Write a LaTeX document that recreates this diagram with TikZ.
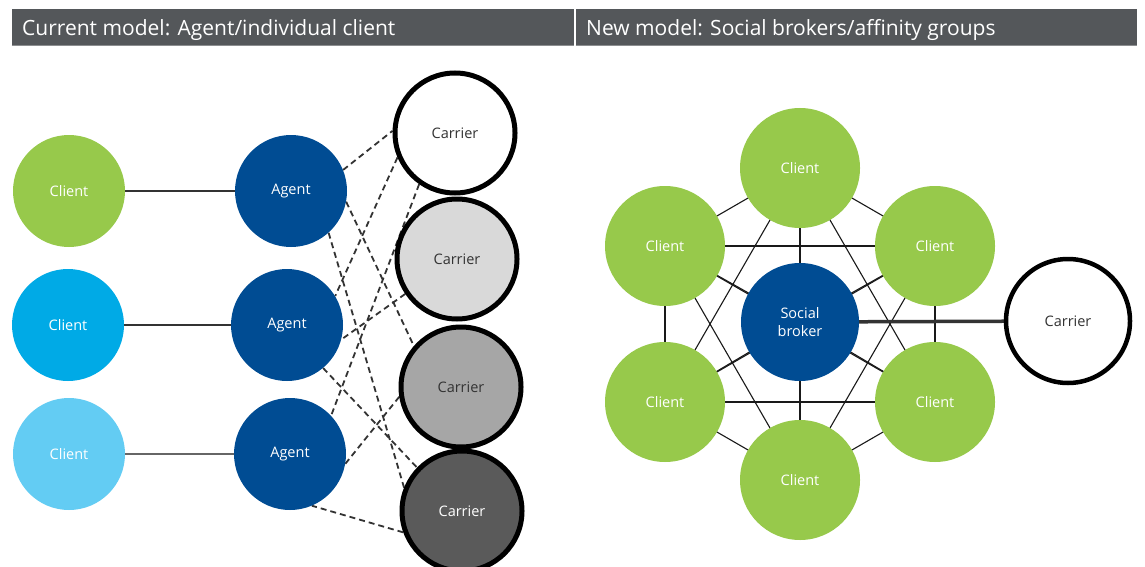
\documentclass[tikz,border=0pt]{standalone}
\usepackage{fontspec}
\setmainfont{Open Sans}
\usetikzlibrary{backgrounds}

\pgfdeclarelayer{paper}
\pgfsetlayers{paper,background,main}

\definecolor{barfill}{HTML}{54575A}
\definecolor{barline}{HTML}{8C8E90}
\definecolor{leafgreen}{HTML}{97C94B}
\definecolor{skyblue}{HTML}{00AAE6}
\definecolor{paleblue}{HTML}{63CCF3}
\definecolor{navy}{HTML}{004C93}
\definecolor{grayA}{HTML}{D9D9D9}
\definecolor{grayB}{HTML}{A6A6A6}
\definecolor{grayC}{HTML}{5A5A5A}
\definecolor{inkgray}{HTML}{333333}

\tikzset{
  headbar/.style={fill=barfill, draw=none},
  headtext/.style={anchor=base west, text=white, inner sep=0pt,
    font=\fontsize{21}{25}\selectfont},
  bubble/.style={circle, inner sep=0pt, minimum size=112pt, text=white,
    font=\fontsize{14.5}{18}\selectfont, align=center},
  agentnode/.style={bubble, fill=navy},
  clientnode/.style={bubble, fill=leafgreen},
  bigclient/.style={clientnode, minimum size=120pt},
  carriernode/.style={circle, inner sep=0pt, minimum size=120pt, draw=black,
    line width=5pt, text=inkgray, font=\fontsize{14.5}{18}\selectfont},
  solidlink/.style={draw=inkgray, line width=1.3pt},
  dashlink/.style={draw=inkgray, line width=1.8pt, dash pattern=on 6pt off 4pt},
  meshlink/.style={draw=black!90, line width=1.1pt},
  brokerlink/.style={draw=inkgray, line width=3.5pt}
}

\begin{document}
\begin{tikzpicture}[x=1pt, y=-1pt]
\path[use as bounding box, clip] (0,0) rectangle (1145,567);
\begin{pgfonlayer}{paper}
  \fill[white] (0,0) rectangle (1145,567);
\end{pgfonlayer}

% header bars
\fill[headbar] (11.5,9) rectangle (573.5,46);
\fill[headbar] (575.5,9) rectangle (1137,46);
\draw[barline, line width=1pt] (11.5,45.5) -- (573.5,45.5);
\draw[barline, line width=1pt] (575.5,45.5) -- (1137,45.5);
\node[headtext] (h1) at (22,35.5) {Current model: Agent/individual client};
\node[headtext] (h2) at (586,35.5) {New model: Social brokers/affinity groups};

% current model: clients, agents, carriers
\node[bubble, fill=leafgreen] (cl1) at (69,191) {Client};
\node[bubble, fill=skyblue]   (cl2) at (68,325) {Client};
\node[bubble, fill=paleblue]  (cl3) at (69,454) {Client};

\node[agentnode] (ag1) at (291,191) {Agent};
\node[agentnode] (ag2) at (287,325) {Agent};
\node[agentnode] (ag3) at (290,454) {Agent};

\node[carriernode, fill=white] (ca1) at (455,133) {Carrier};
\node[carriernode, fill=grayA] (ca2) at (457,259) {Carrier};
\node[carriernode, fill=grayB] (ca3) at (461,387) {Carrier};
\node[carriernode, fill=grayC, text=white] (ca4) at (462,511) {Carrier};

\begin{scope}[on background layer]
  \draw[solidlink] (cl1) -- (ag1);
  \draw[solidlink] (cl2) -- (ag2);
  \draw[solidlink, draw=black!60] (cl3.east) -- (ag3.west);
  \draw[dashlink] (ag1.22)  -- (ca1.178);
  \draw[dashlink] (ag1.-11) -- (ca3.139);
  \draw[dashlink] (ag1.-48) -- (ca4.158);
  \draw[dashlink] (ca1.203) -- (ag2.31);
  \draw[dashlink] (ca1.235) -- (ag3.43);
  \draw[dashlink] (ca2.214) -- (ag2.-15);
  \draw[dashlink] (ag2.-50) -- (ca4.136);
  \draw[dashlink] (ca3.189) -- (ag3.-10);
  \draw[dashlink] (ca4.200) -- (ag3.-67);
\end{scope}

% new model: affinity group around a social broker
\node[agentnode, minimum size=118pt] (sb) at (800,322) {Social\\broker};
\node[bigclient] (gt)  at (800,168) {Client};
\node[bigclient] (gul) at (665,246) {Client};
\node[bigclient] (gur) at (935,246) {Client};
\node[bigclient] (gll) at (665,402) {Client};
\node[bigclient] (glr) at (935,402) {Client};
\node[bigclient] (gb)  at (800,480) {Client};
\node[carriernode, fill=white, minimum size=124pt, line width=4.5pt] (cr) at (1068,321) {Carrier};

\begin{scope}[on background layer]
  \foreach \a/\b in {gt/gul, gt/gur, gt/gll, gt/glr, gt/gb,
                     gul/gur, gul/gll, gul/glr, gul/gb,
                     gur/gll, gur/glr, gur/gb,
                     gll/glr, gll/gb, glr/gb,
                     sb/gt, sb/gul, sb/gur, sb/gll, sb/glr, sb/gb}
    \draw[meshlink] (\a.center) -- (\b.center);
  \draw[brokerlink] (sb.center) -- (cr.center);
\end{scope}
\end{tikzpicture}
\end{document}
